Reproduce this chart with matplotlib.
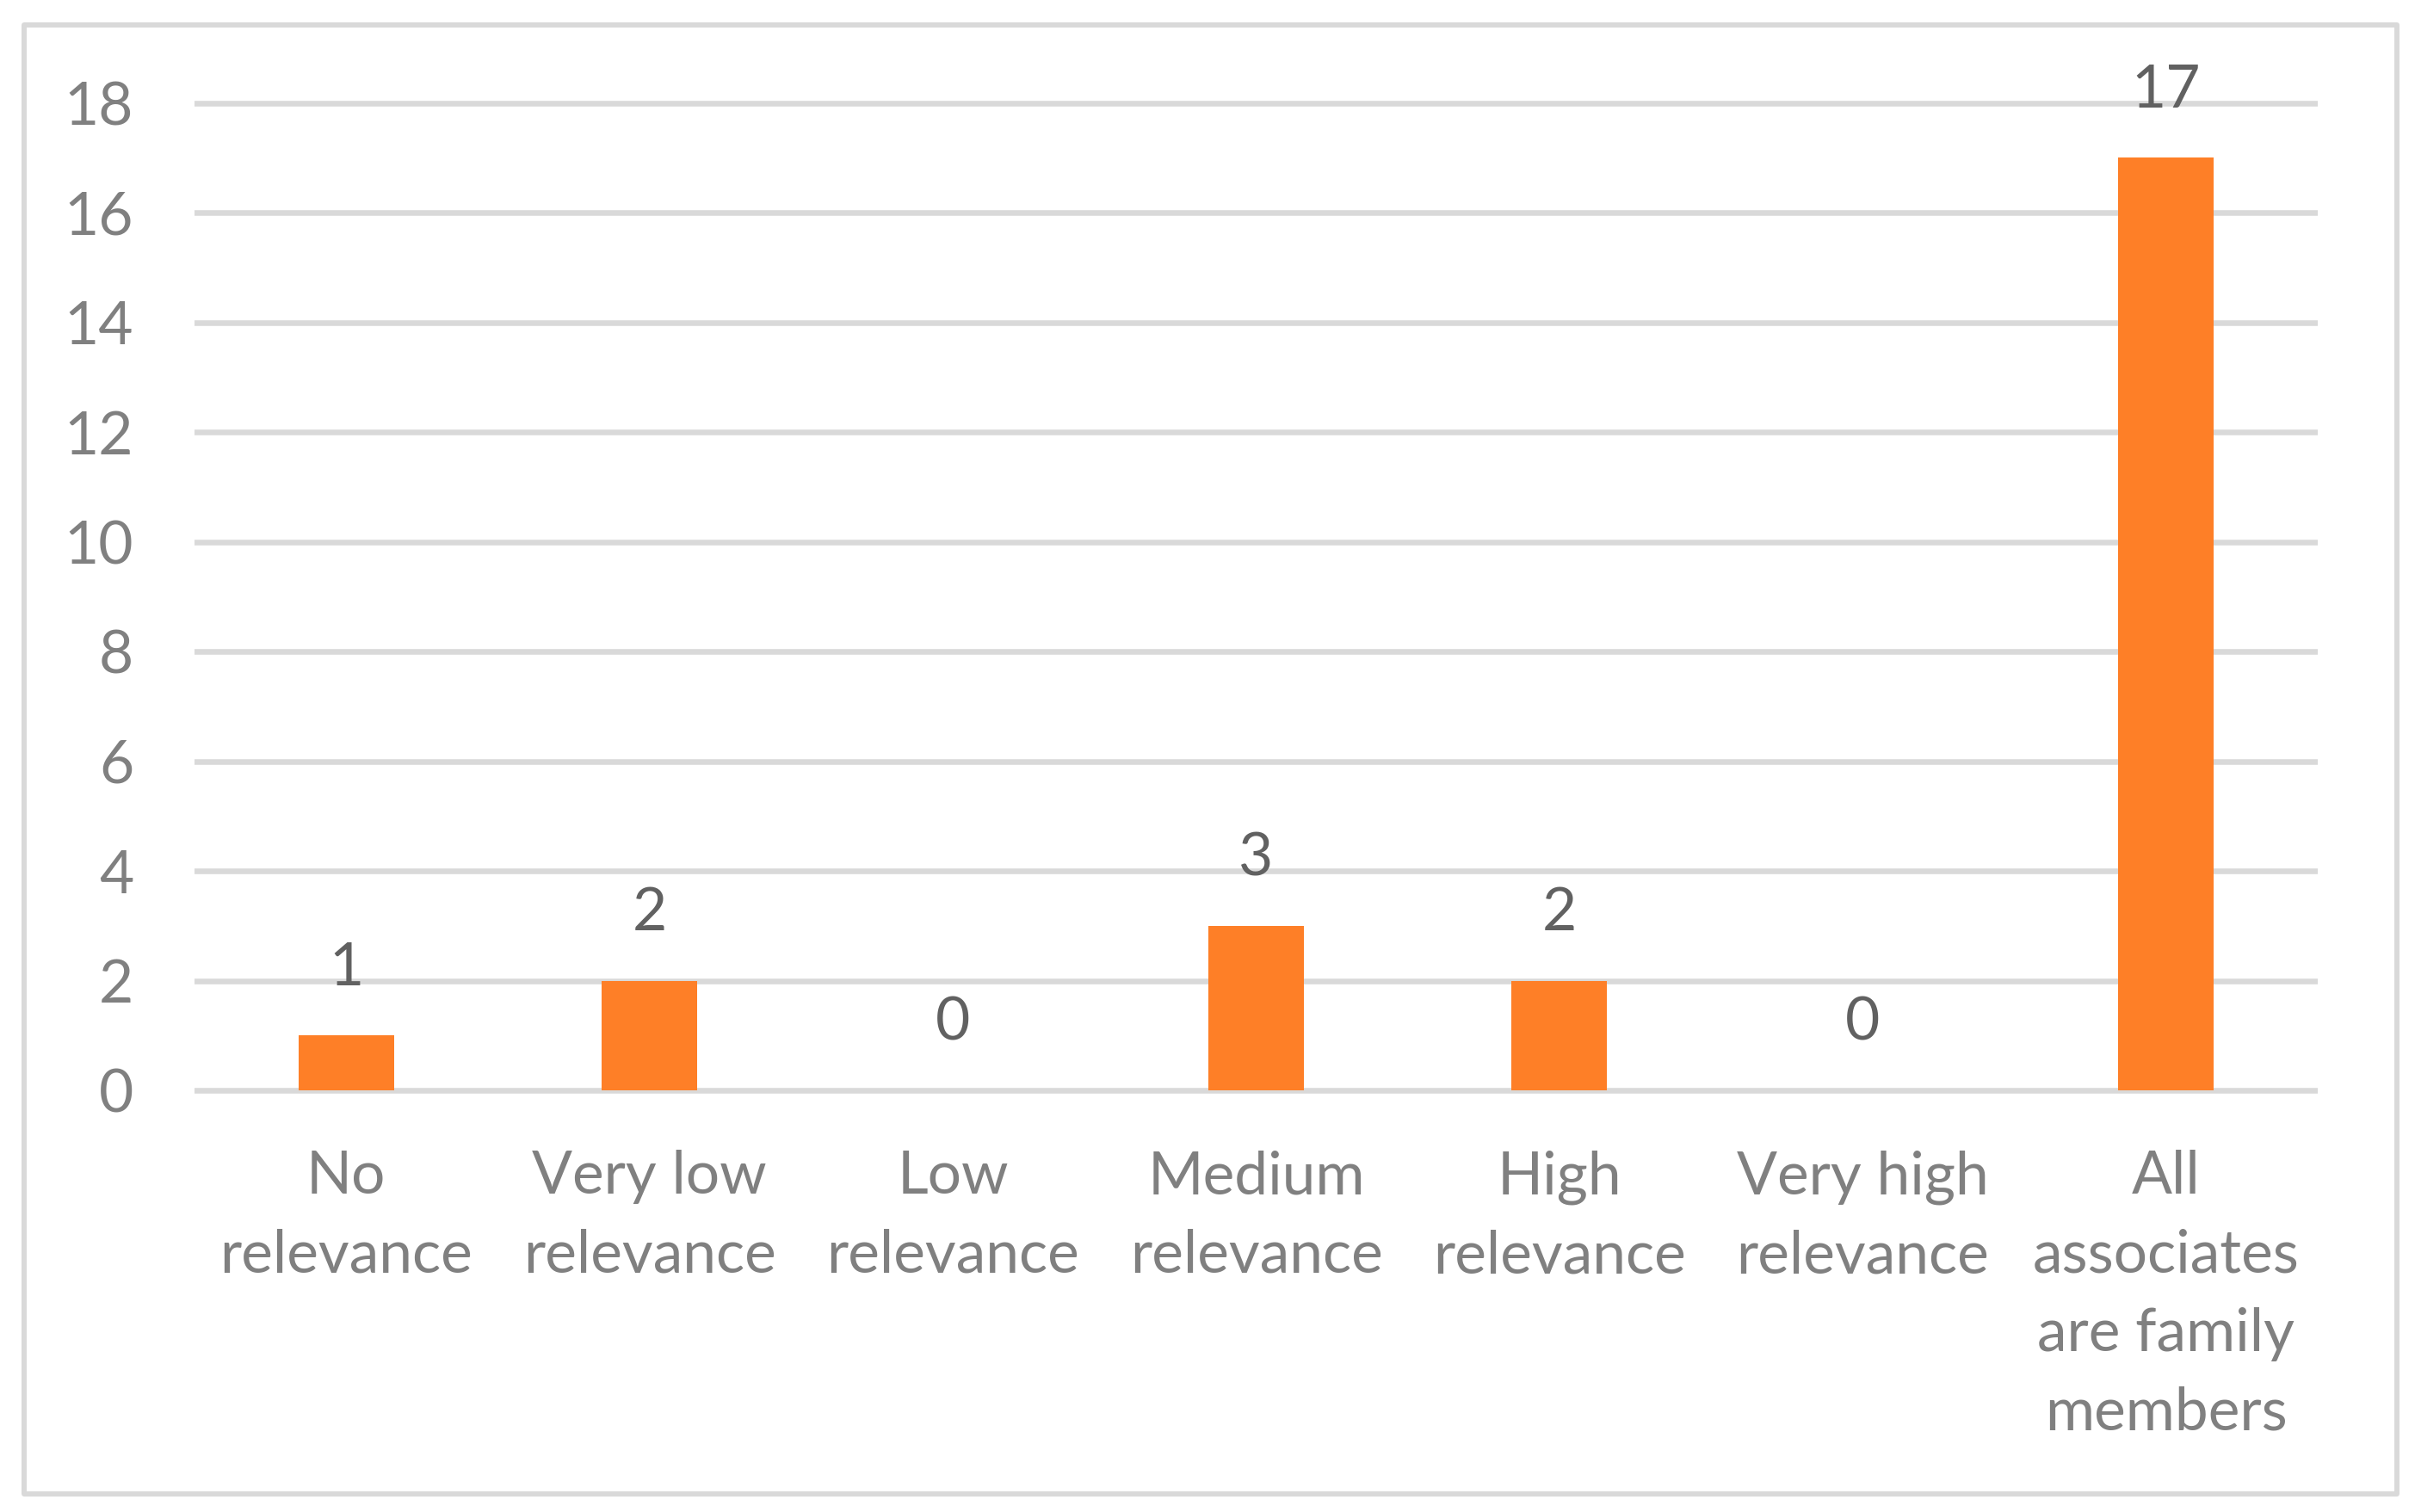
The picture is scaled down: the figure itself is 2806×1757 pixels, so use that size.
import matplotlib
matplotlib.use("Agg")
import matplotlib.pyplot as plt
from matplotlib.patches import Rectangle

plt.rcParams['font.family'] = ['Lato', 'DejaVu Sans']

categories = ["No\nrelevance", "Very low\nrelevance", "Low\nrelevance", "Medium\nrelevance",
              "High\nrelevance", "Very high\nrelevance", "All\nassociates\nare family\nmembers"]
counts = [1, 2, 0, 3, 2, 0, 17]
y_ticks = [0, 2, 4, 6, 8, 10, 12, 14, 16, 18]

BAR_COLOR = "#FE7F27"
GRID_COLOR = "#D9D9D9"
TICK_COLOR = "#808080"
LABEL_COLOR = "#616161"
FS = 50

W, H, DPI = 2806, 1757, 100
fig = plt.figure(figsize=(W / DPI, H / DPI), dpi=DPI)

# axes placed so that x = -0.5..6.5 spans px 226..2693 and y = -0.3..18.5 spans px 1286..88
y_lo, y_hi = -0.3, 18.5
px_per_unit = 63.75
top_px = 1267 - y_hi * px_per_unit
bot_px = 1267 - y_lo * px_per_unit
ax = fig.add_axes([226 / W, 1 - bot_px / H, 2467 / W, (bot_px - top_px) / H])

x = list(range(len(categories)))
bars = ax.bar(x, counts, width=0.315, color=BAR_COLOR, zorder=3)

ax.set_xlim(-0.5, len(categories) - 0.5)
ax.set_ylim(y_lo, y_hi)
ax.set_yticks(y_ticks)
ax.set_yticklabels([str(t) for t in y_ticks])
ax.yaxis.grid(True, color=GRID_COLOR, linewidth=4.7)
ax.set_axisbelow(True)

ax.set_xticks(x)
ax.set_xticklabels(categories, linespacing=1.56, multialignment="center")
ax.tick_params(axis="x", length=0, pad=36, labelsize=FS, labelcolor=TICK_COLOR)
ax.tick_params(axis="y", length=0, pad=51, labelsize=FS, labelcolor=TICK_COLOR)

for s in ax.spines.values():
    s.set_visible(False)

# value labels above each bar
for xi, v in zip(x, counts):
    ax.annotate(str(v), (xi, v), xytext=(0, 41.8), textcoords="offset points",
                ha="center", va="baseline", fontsize=FS, color=LABEL_COLOR)

# light grey frame round the chart
frame = Rectangle((27.5 / W, 1 - 1735.5 / H), (2785 - 27.5) / W, (1735.5 - 29) / H,
                  transform=fig.transFigure, fill=False, edgecolor=GRID_COLOR,
                  linewidth=4.3, joinstyle="round")
fig.patches.append(frame)

fig.savefig("out.png", dpi=DPI, facecolor="white")
